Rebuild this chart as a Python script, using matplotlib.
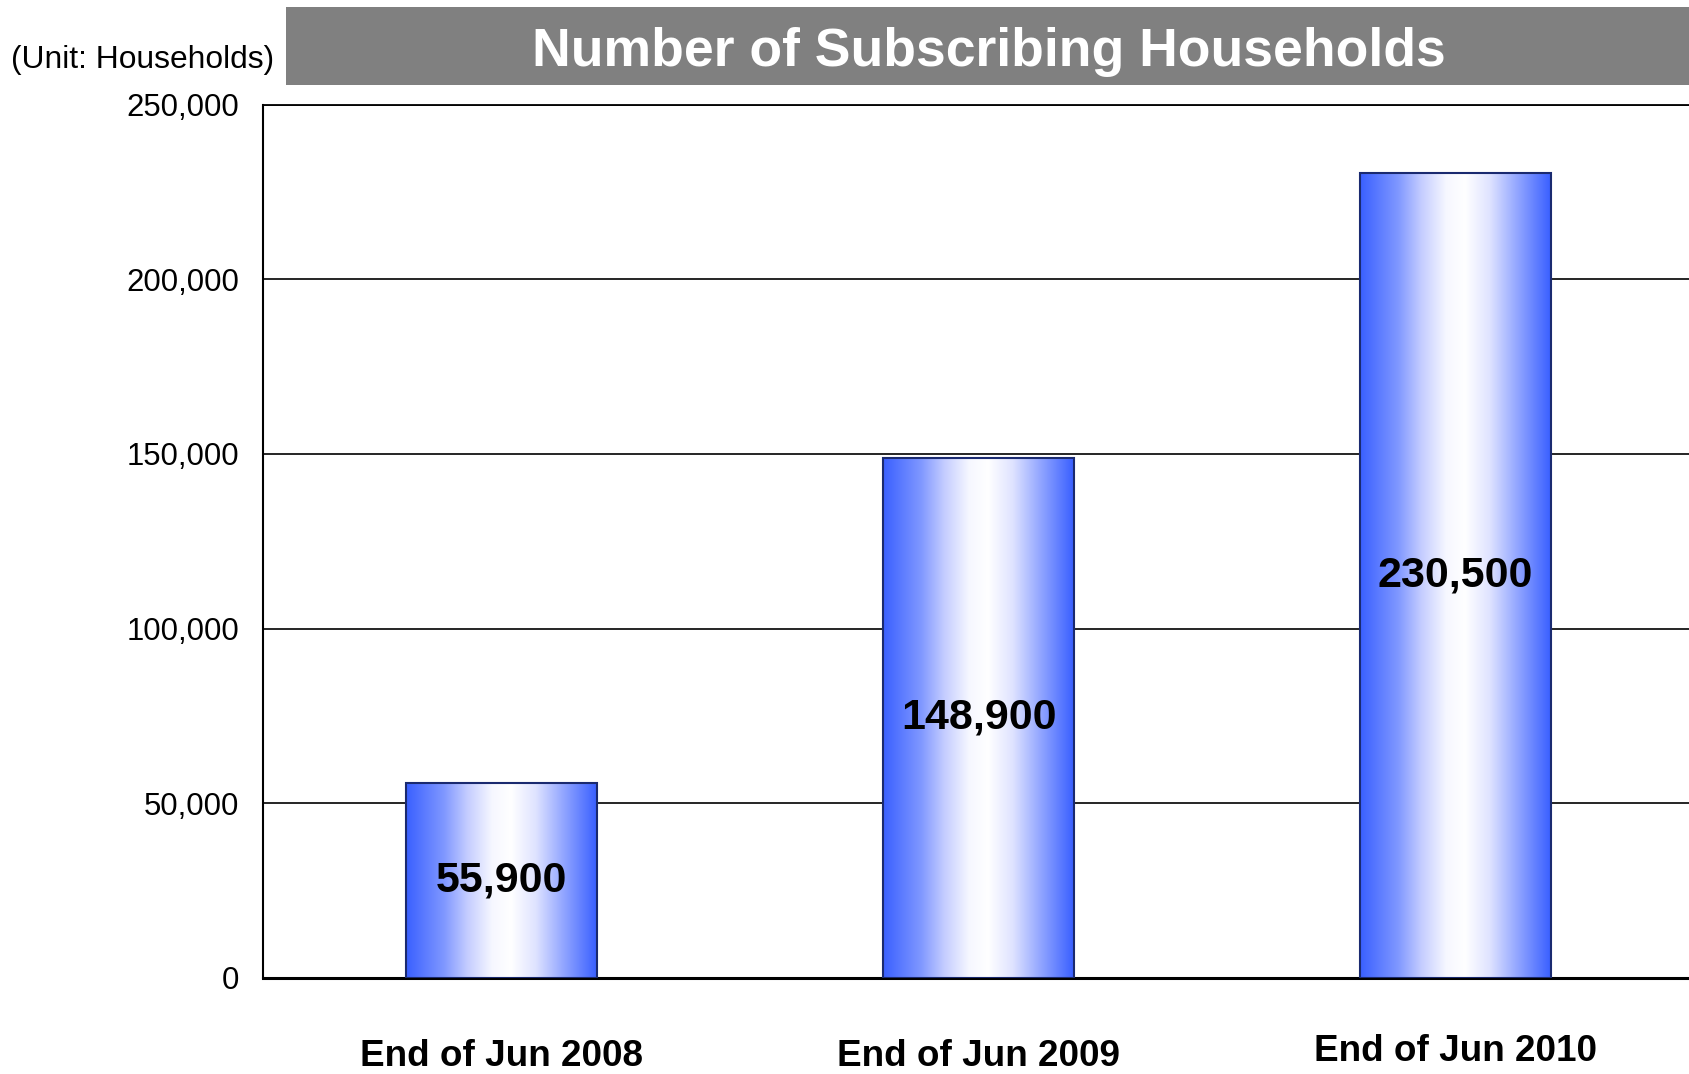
# bar chart of subscribing households, with gradient-filled bars
import numpy as np
import matplotlib
matplotlib.use("Agg")
import matplotlib.pyplot as plt
from matplotlib.colors import LinearSegmentedColormap
from matplotlib.patches import Rectangle
from matplotlib.ticker import FuncFormatter

plt.rcParams['font.family'] = ['Liberation Sans', 'DejaVu Sans']

# data
categories = ["End of Jun 2008", "End of Jun 2009", "End of Jun 2010"]
households = [55900, 148900, 230500]
y_ticks = [0, 50000, 100000, 150000, 200000, 250000]

title = "Number of Subscribing Households"
unit_label = "(Unit: Households)"

fig = plt.figure(figsize=(16.89, 10.74), dpi=100)
ax = fig.add_axes([0.1557, 0.0894, 0.8473, 0.8133])

# blue -> white -> blue gradient used inside each bar
grad_cmap = LinearSegmentedColormap.from_list(
    "bar_grad",
    [(0.0, "#3a60ff"), (0.2, "#8098ff"), (0.32, "#c4ccff"),
     (0.45, "#f6f7ff"), (0.55, "#ffffff"), (0.68, "#dfe3ff"),
     (0.82, "#95a8ff"), (1.0, "#3a60ff")])
gradient = np.linspace(0, 1, 256).reshape(1, -1)

x = np.arange(len(categories))
bar_w = 0.4
bars = ax.bar(x, households, width=bar_w, facecolor="none",
              edgecolor="#1a2a70", linewidth=1.5, zorder=4)

for rect in bars:
    x0 = rect.get_x()
    im = ax.imshow(gradient, cmap=grad_cmap, aspect="auto",
                   extent=[x0, x0 + rect.get_width(), 0, rect.get_height()],
                   zorder=3, interpolation="bicubic")
    im.set_clip_path(rect)

# value labels in the middle of each bar
for xi, val in zip(x, households):
    ax.text(xi, val / 2, f"{val:,}", ha="center", va="center",
            fontsize=31, fontweight="bold", color="black", zorder=5)

ax.set_xlim(-0.5, 2.5)
ax.set_ylim(0, 250000)
ax.set_yticks(y_ticks)
ax.yaxis.set_major_formatter(FuncFormatter(lambda v, p: f"{int(v):,}"))
ax.tick_params(axis="y", length=0, pad=17, labelsize=22.4)
ax.set_xticks([])
ax.grid(axis="y", color="black", linewidth=1.2, zorder=1)
ax.set_axisbelow(True)

ax.spines["right"].set_visible(False)
ax.spines["top"].set_linewidth(1.3)
ax.spines["left"].set_linewidth(1.5)
ax.spines["bottom"].set_linewidth(2.2)

# category labels under the axis
label_y = [-0.0895, -0.0895, -0.084]
trans = ax.get_xaxis_transform()
for xi, lab, ly in zip(x, categories, label_y):
    ax.text(xi, ly, lab, transform=trans, ha="center", va="center",
            fontsize=26.6, fontweight="bold", clip_on=False)

# grey title banner
fig.patches.append(Rectangle((0.1696, 0.9209), 0.84, 0.073,
                             transform=fig.transFigure, facecolor="#808080",
                             edgecolor="none", zorder=0))
fig.text(0.5856, 0.952, title, ha="center", va="center",
         fontsize=38.5, fontweight="bold", color="white")
fig.text(0.0845, 0.944, unit_label, ha="center", va="center", fontsize=22.9)

fig.savefig("out.png", dpi=100)
